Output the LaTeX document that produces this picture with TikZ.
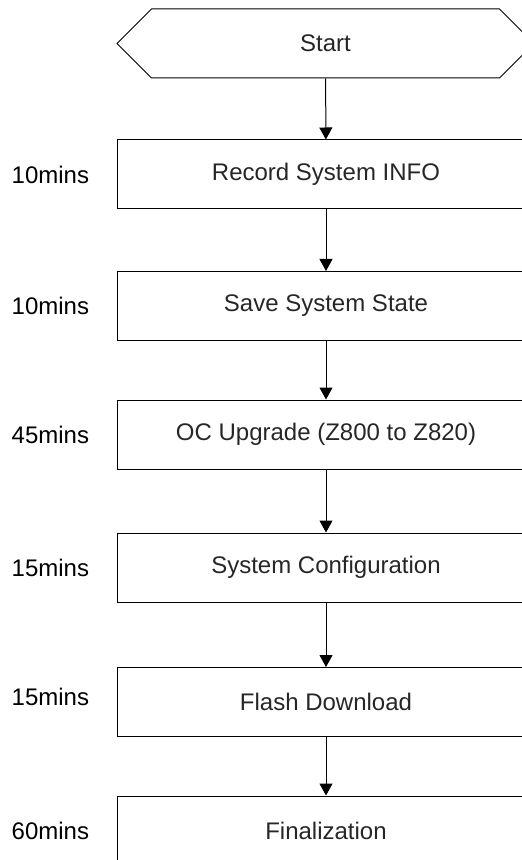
\documentclass[tikz,border=0pt]{standalone}
\usepackage{fontspec}
\setmainfont{Liberation Sans}
\usetikzlibrary{positioning,shapes.symbols,arrows.meta}
\begin{document}
\begin{tikzpicture}[x=0.5pt,y=-0.5pt,
  every node/.style={font=\fontsize{12}{14}\selectfont},
  stepbox/.style={draw,line width=0.5pt,minimum width=209pt,minimum height=34.5pt,inner sep=0pt,text=black!85},
  startbox/.style={draw,line width=0.5pt,signal,signal to=west and east,minimum width=208.5pt,minimum height=34.5pt,inner sep=0pt,text=black!85},
  timelabel/.style={inner sep=0pt},
  flow/.style={-{Triangle[width=6.5pt,length=6pt]},line width=0.5pt}]
\useasboundingbox (0,0) rectangle (522,860);
\clip (0,0) rectangle (522,860);

\node[startbox] (start) at (325.5,43.5) {Start};
\node[stepbox] (rec) at (326,174.5) {Record System INFO};
\node[stepbox] (save) at (326,306) {Save System State};
\node[stepbox] (upg) at (326,434.5) {OC Upgrade (Z800 to Z820)};
\node[stepbox] (conf) at (326,567.5) {System Configuration};
\node[stepbox] (flash) at (326,702) {Flash Download};
\node[stepbox] (fin) at (326,830.5) {Finalization};

\node[timelabel,left=13.5pt of rec.west] (t1) {10mins};
\node[timelabel,left=13.5pt of save.west] (t2) {10mins};
\node[timelabel,left=13.5pt of upg.west] (t3) {45mins};
\node[timelabel,left=13.5pt of conf.west] (t4) {15mins};
\node[timelabel,left=13.5pt of flash.west,yshift=2.5pt] (t5) {15mins};
\node[timelabel,left=13.5pt of fin.west] (t6) {60mins};

\draw[flow] (start) -- (rec);
\draw[flow] (rec) -- (save);
\draw[flow] (save) -- (upg);
\draw[flow] (upg) -- (conf);
\draw[flow] (conf) -- (flash);
\draw[flow] (flash) -- (fin);

\end{tikzpicture}
\end{document}
